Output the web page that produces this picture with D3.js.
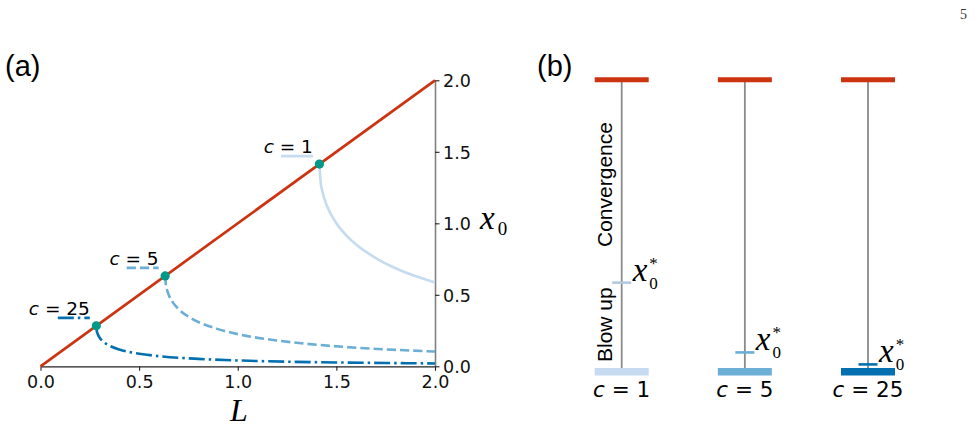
<!DOCTYPE html>
<html>
<head>
<meta charset="utf-8">
<script src="https://cdn.jsdelivr.net/npm/d3@7"></script>
<style>
  body { margin: 0; background: #fff; }
  svg { display: block; }
</style>
</head>
<body>
<div id="chart"></div>
<script>
// panel (a): boundary x0 against L, one curve per c
var cValues    = [1, 5, 25]
var cLabels    = ['1', '5', '25']
var lineColors = ['#c6dbef', '#6baed6', '#0570b0']
var lStar      = [1.414, 0.632, 0.283]   // where each curve leaves x0 = L

var curveL = [
  [1.414, 1.42, 1.43, 1.45, 1.5, 1.55, 1.6, 1.7, 1.8, 1.9, 2.0],
  [0.632, 0.635, 0.64, 0.65, 0.67, 0.7, 0.75, 0.8, 0.9, 1.0, 1.2, 1.4, 1.6, 1.8, 2.0],
  [0.283, 0.285, 0.29, 0.30, 0.32, 0.35, 0.4, 0.5, 0.6, 0.8, 1.0, 1.25, 1.5, 1.75, 2.0]
]
var curveX0 = [
  [1.414, 1.292, 1.218, 1.130, 1.0, 0.916, 0.852, 0.757, 0.686, 0.631, 0.586],
  [0.632, 0.578, 0.542, 0.50, 0.449, 0.40, 0.347, 0.310, 0.260, 0.225, 0.180, 0.151, 0.130, 0.115, 0.103],
  [0.283, 0.250, 0.226, 0.20, 0.170, 0.144, 0.117, 0.088, 0.071, 0.052, 0.041, 0.032, 0.027, 0.023, 0.020]
]
var diagonal = [[0, 0], [2, 2]]
var xTicks   = [0, 0.5, 1, 1.5, 2]
var yTicks   = [0, 0.5, 1, 1.5, 2]

// panel (b): level of x0* between blow up (0) and convergence (1)
var xStarLevel = [0.305, 0.066, 0.025]

var red    = '#cc3311'
var teal   = '#009988'
var dashes = [null, '9.25,4', '16,4,2.5,4']
var markerColors = ['#b3c8df', '#6baed6', '#0570b0']
var serif = '"Liberation Serif", "DejaVu Serif", serif'
var sans  = '"DejaVu Sans", sans-serif'
var helv  = '"Liberation Sans", Arial, sans-serif'

var svg = d3.select('#chart')
  .append('svg')
    .attr('width', 978)
    .attr('height', 428)

svg.append('text').attr('x', 960).attr('y', 19)
  .style('font-family', serif).style('font-size', '14px').style('fill', '#333')
  .text('5')

// ---------- panel (a)
var xA = d3.scaleLinear().domain([0, 2]).range([40.5, 435])
var yA = d3.scaleLinear().domain([0, 2]).range([366.3, 80.3])

svg.append('text').attr('x', 5).attr('y', 76)
  .style('font-family', helv).style('font-size', '29px').text('(a)')

var xAxis = svg.append('g')
  .attr('transform', 'translate(0,' + yA(0) + ')')
  .call(d3.axisBottom(xA).tickValues(xTicks).tickFormat(d3.format('.1f')).tickSize(4.5).tickPadding(5).tickSizeOuter(0))
xAxis.select('.domain').attr('stroke', '#222').attr('stroke-width', 1.2)

var yAxis = svg.append('g')
  .attr('transform', 'translate(' + xA(2) + ',0)')
  .call(d3.axisRight(yA).tickValues(yTicks).tickFormat(d3.format('.1f')).tickSize(4.5).tickPadding(3.5).tickSizeOuter(0))
yAxis.select('.domain').attr('stroke', '#808080').attr('stroke-width', 1.6)
yAxis.selectAll('.tick text').attr('dy', '0.36em')

svg.selectAll('.tick text').style('font-family', sans).style('font-size', '17.5px').style('fill', '#111')
svg.selectAll('.tick line').attr('stroke', '#222').attr('stroke-width', 1.1)

var line = d3.line()
  .x(function(d) { return xA(d[0]) })
  .y(function(d) { return yA(d[1]) })
  .curve(d3.curveMonotoneX)

for (var i = 0; i < cValues.length; ++i) {
  var pts = curveL[i].map(function(l, j) { return [l, curveX0[i][j]] })
  svg.append('path')
    .datum(pts)
    .attr('fill', 'none')
    .attr('stroke', lineColors[i])
    .attr('stroke-width', 2.6)
    .attr('stroke-dasharray', dashes[i])
    .attr('d', line)
}

svg.append('path')
  .datum(diagonal)
  .attr('fill', 'none')
  .attr('stroke', red)
  .attr('stroke-width', 2.7)
  .attr('d', d3.line().x(function(d) { return xA(d[0]) }).y(function(d) { return yA(d[1]) }))

svg.selectAll('circle.split')
  .data(lStar)
  .enter().append('circle')
    .attr('class', 'split')
    .attr('cx', function(d) { return xA(d) })
    .attr('cy', function(d) { return yA(d) })
    .attr('r', 4.6)
    .attr('fill', teal)

// labels with a short line sample, sitting up-left of each dot
for (var i = 0; i < cValues.length; ++i) {
  var px = xA(lStar[i]), py = yA(lStar[i])
  svg.append('line')
    .attr('x1', px - 38.5).attr('x2', px - 6.5)
    .attr('y1', py - 8).attr('y2', py - 8)
    .attr('stroke', lineColors[i])
    .attr('stroke-width', 2.6)
    .attr('stroke-dasharray', dashes[i])
  var t = svg.append('text')
    .attr('x', px - 6.5).attr('y', py - 11)
    .attr('text-anchor', 'end')
    .style('font-family', sans).style('font-size', '18.5px')
  t.append('tspan').style('font-style', 'italic').text('c')
  t.append('tspan').text(' = ' + cLabels[i])
}

// axis names
svg.append('text').attr('x', 239).attr('y', 420.5)
  .attr('text-anchor', 'middle')
  .style('font-family', serif).style('font-style', 'italic').style('font-size', '32px')
  .text('L')
var xl = svg.append('text').attr('x', 480).attr('y', 229)
  .style('font-family', serif)
xl.append('tspan').style('font-style', 'italic').style('font-size', '33px').text('x')
xl.append('tspan').attr('dx', 3).attr('dy', 6).style('font-size', '19px').text('0')

// ---------- panel (b)
var xB = d3.scalePoint().domain(cValues).range([621.7, 868])
var yB = d3.scaleLinear().domain([0, 1]).range([371.7, 79.7])
var barW = 54

svg.append('text').attr('x', 537).attr('y', 76)
  .style('font-family', helv).style('font-size', '29px').text('(b)')

var cols = svg.selectAll('g.col')
  .data(cValues)
  .enter().append('g')
    .attr('class', 'col')

cols.append('line')
  .attr('x1', function(d) { return xB(d) }).attr('x2', function(d) { return xB(d) })
  .attr('y1', yB(1)).attr('y2', yB(0))
  .attr('stroke', '#8a8a8a')
  .attr('stroke-width', 1.8)

cols.append('line')
  .attr('x1', function(d) { return xB(d) - barW / 2 }).attr('x2', function(d) { return xB(d) + barW / 2 })
  .attr('y1', yB(1)).attr('y2', yB(1))
  .attr('stroke', red)
  .attr('stroke-width', 5)

cols.append('line')
  .attr('x1', function(d) { return xB(d) - barW / 2 }).attr('x2', function(d) { return xB(d) + barW / 2 })
  .attr('y1', yB(0)).attr('y2', yB(0))
  .attr('stroke', function(d, i) { return lineColors[i] })
  .attr('stroke-width', 7.6)

cols.append('line')
  .attr('x1', function(d) { return xB(d) - 9.5 }).attr('x2', function(d) { return xB(d) + 9.5 })
  .attr('y1', function(d, i) { return yB(xStarLevel[i]) })
  .attr('y2', function(d, i) { return yB(xStarLevel[i]) })
  .attr('stroke', function(d, i) { return markerColors[i] })
  .attr('stroke-width', 2.6)

// x0* written as one text: x, subscript 0, superscript * stacked above it
var xs = cols.append('text')
  .attr('x', function(d) { return xB(d) + 11 })
  .attr('y', function(d, i) { return yB(xStarLevel[i]) - 2 })
  .style('font-family', serif)
xs.append('tspan').style('font-style', 'italic').style('font-size', '33px').text('x')
xs.append('tspan').attr('dx', 2).attr('dy', 8).style('font-size', '17px').text('0')
xs.append('tspan').attr('dx', -8.5).attr('dy', -20).style('font-size', '17px').text('*')

var cl = cols.append('text')
  .attr('x', function(d) { return xB(d) })
  .attr('y', 397)
  .attr('text-anchor', 'middle')
  .style('font-family', sans).style('font-size', '21.5px')
cl.append('tspan').style('font-style', 'italic').text('c')
cl.append('tspan').text(function(d, i) { return ' = ' + cLabels[i] })

svg.append('text')
  .attr('transform', 'translate(612,247) rotate(-90)')
  .style('font-family', helv).style('font-size', '21px')
  .text('Convergence')
svg.append('text')
  .attr('transform', 'translate(612,362) rotate(-90)')
  .style('font-family', helv).style('font-size', '21px')
  .text('Blow up')
</script>
</body>
</html>
